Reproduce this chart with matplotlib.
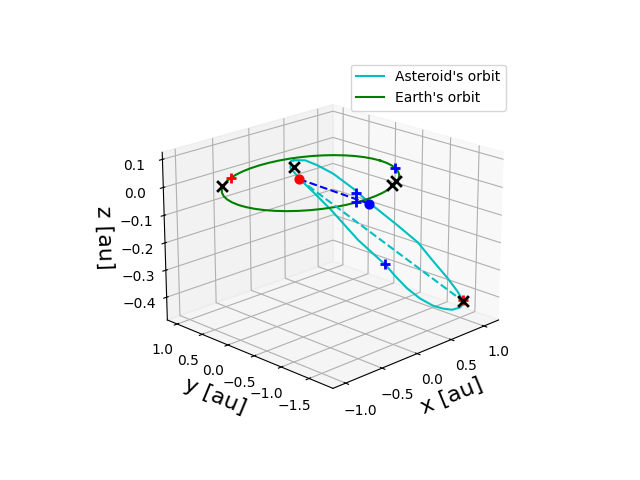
import matplotlib
matplotlib.use("Agg")
import matplotlib.pyplot as plt

# orbit points (x, y, z in au)
earth_x = [1.0, 0.991, 0.966, 0.924, 0.866, 0.793, 0.707, 0.609, 0.5, 0.383, 0.259, 0.131, 0.0,
           -0.131, -0.259, -0.383, -0.5, -0.609, -0.707, -0.793, -0.866, -0.924, -0.966, -0.991, -1.0,
           -0.991, -0.966, -0.924, -0.866, -0.793, -0.707, -0.609, -0.5, -0.383, -0.259, -0.131, 0.0,
           0.131, 0.259, 0.383, 0.5, 0.609, 0.707, 0.793, 0.866, 0.924, 0.966, 0.991, 1.0]
earth_y = [0.0, 0.131, 0.259, 0.383, 0.5, 0.609, 0.707, 0.793, 0.866, 0.924, 0.966, 0.991, 1.0,
           0.991, 0.966, 0.924, 0.866, 0.793, 0.707, 0.609, 0.5, 0.383, 0.259, 0.131, 0.0,
           -0.131, -0.259, -0.383, -0.5, -0.609, -0.707, -0.793, -0.866, -0.924, -0.966, -0.991, -1.0,
           -0.991, -0.966, -0.924, -0.866, -0.793, -0.707, -0.609, -0.5, -0.383, -0.259, -0.131, 0.0]
earth_z = [0.0] * 49

ast_x = [0.138, 0.345, 0.514, 0.70, 0.823, 0.898, 1.072, 1.138, 1.154, 1.125, 1.156, 1.136, 1.114, 1.064,
         0.958, 0.915, 0.847, 0.785, 0.727, 0.708, 0.713, 0.57, 0.419, 0.333, 0.18, 0.059, 0.125, 0.138]
ast_y = [0.515, 0.577, 0.559, 0.506, 0.288, 0.014, -0.234, -0.555, -0.81, -1.115, -1.261, -1.376, -1.419, -1.424,
         -1.404, -1.291, -1.19, -1.027, -0.859, -0.681, -0.475, -0.138, 0.175, 0.346, 0.437, 0.477, 0.555, 0.515]
ast_z = [0.037, 0.017, -0.014, -0.056, -0.107, -0.159, -0.231, -0.283, -0.335, -0.376, -0.418, -0.438, -0.449, -0.459,
         -0.459, -0.459, -0.449, -0.428, -0.397, -0.366, -0.335, -0.252, -0.149, -0.097, -0.035, 0.017, 0.032, 0.037]

# transfer legs
start = [0.001, 0.233, -0.004]
arrive = [0.771, -0.091, -0.137]
tip = [1.096, -1.441, -0.438]

# markers
cross_x = [0.044, -0.706, 0.53, 0.654, 1.096]
cross_y = [0.39, 0.739, -0.804, -0.729, -1.441]
cross_z = [0.026, -0.004, -0.004, -0.004, -0.438]
blue_x = [0.949, 0.605, 0.525, 0.774]
blue_y = [-0.346, -0.054, -0.149, -0.391]
blue_z = [-0.004, -0.085, -0.107, -0.344]
red_x = [-0.466, 1.096]
red_y = [0.897, -1.43]
red_z = [-0.004, -0.433]

fig = plt.figure()
ax = fig.add_subplot(projection="3d")
ax.view_init(elev=20, azim=-135)

ax.plot(ast_x, ast_y, ast_z, color="c", label="Asteroid's orbit")
ax.plot(earth_x, earth_y, earth_z, color="g", label="Earth's orbit")

ax.plot(*zip(start, arrive), "b--")
ax.plot(*zip(start, tip), "c--")

ax.scatter(*start, color="r", s=40, depthshade=False)
ax.scatter(*arrive, color="b", s=40, depthshade=False)
ax.scatter(red_x, red_y, red_z, color="r", marker="+", s=60, linewidths=2, depthshade=False)
ax.scatter(blue_x, blue_y, blue_z, color="b", marker="+", s=60, linewidths=2, depthshade=False)
ax.scatter(cross_x, cross_y, cross_z, color="k", marker="x", s=60, linewidths=2, depthshade=False)

ax.set_xlim(-1.17, 1.23)
ax.set_ylim(-1.92, 1.2)
ax.set_zlim(-0.485, 0.125)
ax.set_xlabel("x [au]", fontsize=16)
ax.set_ylabel("y [au]", fontsize=16)
ax.set_zlabel("z [au]", fontsize=16)
ax.set_xticks([-1.0, -0.5, 0.0, 0.5, 1.0])
ax.set_yticks([-1.5, -1.0, -0.5, 0.0, 0.5, 1.0])
ax.set_zticks([-0.4, -0.3, -0.2, -0.1, 0.0, 0.1])
ax.legend()

fig.savefig("out.png", dpi=100)
